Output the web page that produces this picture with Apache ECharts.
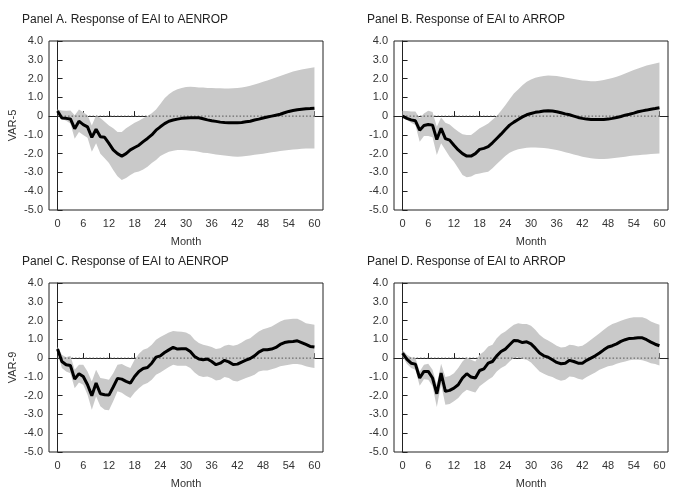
<!DOCTYPE html>
<html>
<head>
<meta charset="utf-8">
<script src="https://cdn.jsdelivr.net/npm/echarts@6/dist/echarts.min.js"></script>
<style>
  html, body { margin: 0; padding: 0; background: #fff; }
  #main { width: 676px; height: 498px; }
</style>
</head>
<body>
<div id="main"></div>
<script>
// months 0..60
var months = [];
for (var m = 0; m <= 60; m++) { months.push(m); }
var monthTicks = [0, 6, 12, 18, 24, 30, 36, 42, 48, 54, 60];
var titles = [
  'Panel A. Response of EAI to AENROP',
  'Panel B. Response of EAI to ARROP',
  'Panel C. Response of EAI to AENROP',
  'Panel D. Response of EAI to ARROP'
];
var rowNames = ['VAR-5', '', 'VAR-9', ''];

// Panel A
var aLine = [0.27, -0.1, -0.12, -0.15, -0.67, -0.27, -0.45, -0.57, -1.13, -0.7, -1.1, -1.13, -1.45, -1.8, -2.0, -2.13, -2.0, -1.8, -1.67, -1.55, -1.36, -1.19, -1.0, -0.75, -0.57, -0.4, -0.27, -0.21, -0.16, -0.12, -0.1, -0.09, -0.09, -0.09, -0.14, -0.2, -0.25, -0.28, -0.32, -0.34, -0.35, -0.35, -0.35, -0.34, -0.3, -0.27, -0.21, -0.16, -0.1, -0.05, 0, 0.05, 0.1, 0.18, 0.25, 0.3, 0.34, 0.37, 0.39, 0.4, 0.42];
var aUp = [0.35, 0.3, 0.28, 0.3, 0.05, 0.35, 0.2, 0.05, -0.5, 0.05, -0.1, -0.3, -0.5, -0.65, -0.85, -0.85, -0.65, -0.5, -0.35, -0.25, -0.12, 0, 0.15, 0.35, 0.65, 0.95, 1.17, 1.33, 1.43, 1.5, 1.55, 1.56, 1.55, 1.53, 1.52, 1.5, 1.5, 1.49, 1.48, 1.47, 1.47, 1.48, 1.5, 1.52, 1.56, 1.62, 1.68, 1.75, 1.83, 1.9, 1.97, 2.05, 2.13, 2.22, 2.3, 2.37, 2.43, 2.48, 2.52, 2.56, 2.6];
var aLo = [0.15, -0.15, -0.25, -0.4, -1.2, -0.85, -1.0, -1.15, -1.9, -1.45, -2.0, -2.25, -2.5, -2.87, -3.2, -3.4, -3.3, -3.14, -3.0, -2.95, -2.84, -2.7, -2.5, -2.34, -2.13, -2.0, -1.9, -1.85, -1.8, -1.8, -1.82, -1.84, -1.86, -1.9, -1.95, -1.97, -2.0, -2.04, -2.07, -2.1, -2.13, -2.15, -2.16, -2.15, -2.13, -2.1, -2.06, -2.03, -2.0, -1.96, -1.93, -1.9, -1.86, -1.83, -1.8, -1.78, -1.76, -1.74, -1.72, -1.72, -1.72];

// Panel B
var bLine = [0, -0.12, -0.2, -0.25, -0.75, -0.5, -0.45, -0.48, -1.25, -0.65, -1.2, -1.28, -1.55, -1.8, -2.0, -2.13, -2.13, -2.0, -1.77, -1.72, -1.63, -1.42, -1.19, -0.96, -0.71, -0.48, -0.32, -0.18, -0.04, 0.07, 0.14, 0.2, 0.23, 0.27, 0.28, 0.27, 0.23, 0.18, 0.12, 0.07, 0, -0.07, -0.12, -0.16, -0.18, -0.18, -0.18, -0.18, -0.16, -0.12, -0.07, -0.02, 0.05, 0.1, 0.16, 0.23, 0.28, 0.32, 0.37, 0.4, 0.44];
var bUp = [0.28, 0.27, 0.25, 0.25, -0.12, 0.14, 0.28, 0.22, -0.57, -0.07, -0.35, -0.45, -0.65, -0.82, -0.97, -1.0, -1.0, -0.83, -0.65, -0.53, -0.4, -0.2, 0, 0.28, 0.58, 0.9, 1.2, 1.42, 1.65, 1.83, 1.95, 2.04, 2.1, 2.14, 2.16, 2.15, 2.13, 2.09, 2.05, 2.01, 1.97, 1.93, 1.9, 1.88, 1.86, 1.86, 1.88, 1.92, 1.97, 2.03, 2.1, 2.18, 2.27, 2.36, 2.45, 2.54, 2.62, 2.69, 2.75, 2.8, 2.85];
var bLo = [-0.04, -0.2, -0.35, -0.48, -1.37, -1.06, -1.06, -1.13, -2.07, -1.45, -1.8, -2.16, -2.43, -2.78, -3.14, -3.26, -3.22, -3.1, -3.05, -3.0, -2.96, -2.78, -2.55, -2.34, -2.13, -1.95, -1.84, -1.77, -1.72, -1.69, -1.67, -1.67, -1.68, -1.7, -1.72, -1.76, -1.8, -1.86, -1.93, -1.98, -2.04, -2.1, -2.16, -2.21, -2.25, -2.27, -2.29, -2.29, -2.27, -2.25, -2.22, -2.19, -2.16, -2.13, -2.1, -2.08, -2.06, -2.04, -2.02, -2.0, -1.99];

// Panel C
var cLine = [0.48, -0.18, -0.35, -0.39, -1.12, -0.83, -0.98, -1.42, -2.0, -1.33, -1.9, -1.95, -1.97, -1.54, -1.08, -1.12, -1.24, -1.33, -0.98, -0.71, -0.55, -0.5, -0.27, 0.05, 0.12, 0.3, 0.44, 0.57, 0.48, 0.5, 0.5, 0.35, 0.09, -0.05, -0.09, -0.05, -0.18, -0.35, -0.27, -0.12, -0.2, -0.34, -0.32, -0.21, -0.11, -0.02, 0.12, 0.32, 0.44, 0.44, 0.48, 0.57, 0.73, 0.83, 0.87, 0.89, 0.92, 0.83, 0.73, 0.62, 0.59];
var cUp = [0.59, 0.18, 0.05, 0.12, -0.62, -0.35, -0.35, -0.71, -1.24, -0.62, -1.06, -1.1, -1.15, -0.8, -0.35, -0.32, -0.44, -0.53, -0.09, 0.23, 0.44, 0.53, 0.71, 0.98, 1.12, 1.24, 1.37, 1.45, 1.42, 1.4, 1.37, 1.24, 0.98, 0.8, 0.71, 0.66, 0.59, 0.48, 0.53, 0.66, 0.71, 0.66, 0.71, 0.83, 0.98, 1.06, 1.24, 1.42, 1.54, 1.6, 1.68, 1.81, 1.95, 2.04, 2.07, 2.09, 2.09, 1.99, 1.86, 1.81, 1.77];
var cLo = [0.35, -0.53, -0.71, -0.8, -1.6, -1.3, -1.42, -1.95, -2.75, -2.04, -2.57, -2.75, -2.78, -2.3, -1.77, -1.85, -2.0, -2.13, -1.83, -1.6, -1.42, -1.33, -1.15, -0.89, -0.76, -0.62, -0.48, -0.35, -0.41, -0.41, -0.41, -0.53, -0.76, -0.94, -1.01, -0.98, -1.06, -1.19, -1.15, -1.01, -1.06, -1.2, -1.24, -1.15, -1.06, -0.98, -0.89, -0.71, -0.66, -0.66, -0.59, -0.53, -0.44, -0.39, -0.35, -0.32, -0.32, -0.35, -0.44, -0.49, -0.53];

// Panel D
var dLine = [0.27, -0.05, -0.27, -0.32, -1.06, -0.71, -0.71, -1.06, -1.9, -0.8, -1.77, -1.72, -1.6, -1.42, -1.06, -0.83, -1.01, -1.06, -0.66, -0.57, -0.27, -0.18, 0.12, 0.35, 0.48, 0.71, 0.94, 0.92, 0.83, 0.87, 0.76, 0.53, 0.27, 0.12, 0.05, -0.09, -0.23, -0.3, -0.27, -0.12, -0.18, -0.27, -0.27, -0.12, 0, 0.12, 0.27, 0.44, 0.59, 0.66, 0.76, 0.89, 0.98, 1.05, 1.06, 1.08, 1.08, 0.98, 0.85, 0.74, 0.66];
var dUp = [0.44, 0.18, 0.05, 0, -0.71, -0.35, -0.3, -0.62, -1.42, -0.3, -1.01, -0.95, -0.8, -0.53, -0.18, 0.05, -0.09, -0.18, 0.18, 0.35, 0.62, 0.71, 1.06, 1.29, 1.42, 1.6, 1.77, 1.86, 1.81, 1.81, 1.72, 1.51, 1.24, 1.06, 0.94, 0.8, 0.66, 0.57, 0.59, 0.71, 0.69, 0.62, 0.66, 0.8, 0.98, 1.15, 1.33, 1.51, 1.68, 1.81, 1.9, 1.99, 2.07, 2.13, 2.18, 2.18, 2.18, 2.09, 1.95, 1.86, 1.77];
var dLo = [0.09, -0.3, -0.53, -0.62, -1.47, -1.12, -1.15, -1.5, -2.6, -1.4, -2.48, -2.45, -2.3, -2.13, -1.86, -1.68, -1.77, -1.83, -1.5, -1.33, -1.15, -1.01, -0.71, -0.53, -0.41, -0.18, 0, 0.05, -0.05, -0.09, -0.23, -0.48, -0.71, -0.83, -0.94, -1.01, -1.12, -1.2, -1.15, -0.98, -1.01, -1.1, -1.15, -1.01, -0.89, -0.76, -0.62, -0.53, -0.44, -0.39, -0.3, -0.23, -0.18, -0.12, -0.09, -0.09, -0.12, -0.18, -0.27, -0.32, -0.39];

var zeroLine = [[0, 0], [60, 0]];

var lines = [aLine, bLine, cLine, dLine];
var ups = [aUp, bUp, cUp, dUp];
var los = [aLo, bLo, cLo, dLo];

var gridPos = [
  { left: 49, top: 41 },
  { left: 394, top: 41 },
  { left: 49, top: 283 },
  { left: 394, top: 283 }
];

var font = 'Liberation Sans, Arial, sans-serif';
var grids = [], xAxes = [], yAxes = [], titleList = [], series = [];

// band polygon: upper edge forward, lower edge back
var bandRender = function (params, api, d) {
  if (params.dataIndex !== 0) return null;
  var pts = [];
  for (var k = 0; k < d.length; k++) pts.push(api.coord([d[k][0], d[k][2]]));
  for (var k2 = d.length - 1; k2 >= 0; k2--) pts.push(api.coord([d[k2][0], d[k2][1]]));
  return {
    type: 'polygon',
    shape: { points: pts },
    style: { fill: '#c9c9c9', stroke: null }
  };
};

for (var i = 0; i < 4; i++) {
  grids.push({
    left: gridPos[i].left, top: gridPos[i].top, width: 274, height: 169,
    show: true, borderColor: '#222', borderWidth: 1, backgroundColor: 'transparent'
  });
  titleList.push({
    text: titles[i],
    left: gridPos[i].left - 27, top: gridPos[i].top - 27, padding: 0,
    textStyle: { fontFamily: font, fontSize: 12, fontWeight: 'normal', color: '#222' }
  });
  xAxes.push({
    gridIndex: i, type: 'value', min: -2, max: 62,
    name: 'Month', nameLocation: 'middle', nameGap: 26,
    nameTextStyle: { fontFamily: font, fontSize: 11, color: '#333' },
    axisLine: { show: true, lineStyle: { color: '#222', width: 1 } },
    axisTick: { show: true, inside: true, length: 5, customValues: monthTicks, lineStyle: { color: '#222' } },
    axisLabel: { customValues: monthTicks, margin: 8, fontFamily: font, fontSize: 11, color: '#333' },
    splitLine: { show: false }
  });
  yAxes.push({
    gridIndex: i, type: 'value', min: -5, max: 4, interval: 1,
    name: rowNames[i], nameLocation: 'middle', nameGap: 31, nameRotate: 90,
    nameTextStyle: { fontFamily: font, fontSize: 11, color: '#333' },
    axisLine: { show: true, lineStyle: { color: '#222', width: 1 } },
    axisTick: { show: true, inside: true, length: 5, lineStyle: { color: '#222' } },
    axisLabel: {
      margin: 6, fontFamily: font, fontSize: 11, color: '#333',
      formatter: function (v) { return v === 0 ? '0' : v.toFixed(1); }
    },
    splitLine: { show: false }
  });

  var bandPts = [], linePts = [];
  for (var k = 0; k < months.length; k++) {
    bandPts.push([months[k], los[i][k], ups[i][k]]);
    linePts.push([months[k], lines[i][k]]);
  }
  (function (bd) {
    series.push({
      type: 'custom', xAxisIndex: i, yAxisIndex: i, data: bd,
      encode: { x: 0, y: [1, 2] }, silent: true, z: 1,
      renderItem: function (params, api) {
        return bandRender(params, api, bd);
      }
    });
  })(bandPts);
  series.push({
    type: 'line', xAxisIndex: i, yAxisIndex: i, data: zeroLine, symbol: 'none',
    lineStyle: { color: '#555', width: 1, type: [1.5, 2] }, silent: true, z: 2
  });
  series.push({
    type: 'line', xAxisIndex: i, yAxisIndex: i, data: linePts, symbol: 'none',
    lineStyle: { color: '#000', width: 3 }, silent: true, z: 3
  });
}

var myChart = echarts.init(document.getElementById('main'));
myChart.setOption({
  animation: false,
  backgroundColor: '#fff',
  title: titleList,
  grid: grids,
  xAxis: xAxes,
  yAxis: yAxes,
  series: series
});
</script>
</body>
</html>
